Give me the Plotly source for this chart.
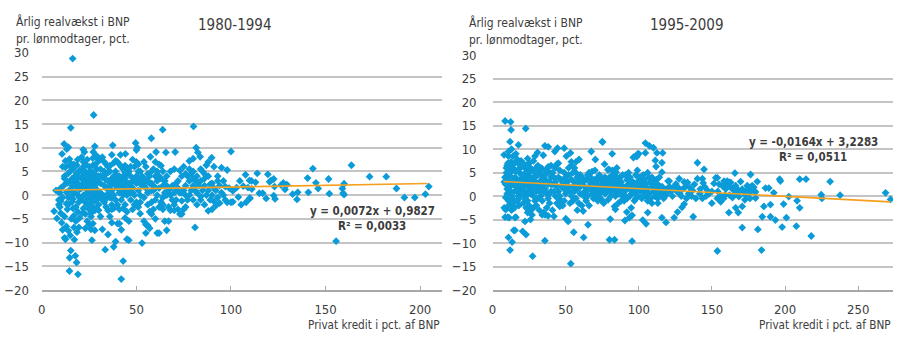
import plotly.graph_objects as go

# ---------------- data: 1980-1994 ----------------
x80 = [
 6.5,8,9,9.5,10,10.5,11,12,12.5,13,
 13.5,14,14.5,14.6,15,10.7,11.8,13.2,14,9.5,
 10,11,11.5,12,12.5,13,13.5,14,14.5,15,
 8.5,9,12,13,14,12.5,11,10,15,7.5,
 15.3,15.3,14.7,14.6,15.6,16,16.5,17,17.2,17.7,
 18.4,19.1,18,18.4,18.8,19.1,19.6,18.6,16.3,16,
 16.5,17,17.5,18,19,19.5,20,20,16,17,
 18.5,19.5,16.5,17.5,18,19,20,17,15.5,16,
 21.9,22.5,27.2,28,27.4,21,22,23,24,25,
 26,27,28,29,30,21,22,23,24,25,
 26,27,28,29,30,21,22,23,24,25,
 26,26.5,27,28,23,21.5,24,25,26,27,
 28,29,30,29,27,21,22,23,24,25,
 26,27,28,29,30,22,23,24,25,26,
 28,30,29,26,24,23,27,25,28,30,
 32,31,33,34,35,36,37,38,39,40,
 31,32,33.5,35,36,37,38,39,31,33,
 34,35,36,37,37.5,38,39,40,32,34,
 35,36,37,38,39,40,31,33,34,40,
 32,36,38,39,35,33,31,40,37,34,
 41.6,44.2,43,42,41,42,43,44,45,46,
 41,42,43,44,45,46,47,48,49,50,
 41,42,43,44,45,46,47,48,49,50,
 41,43,45,47,48,49.6,50.4,50,46,48,
 44,42,47,49,50,45,41,43,44,46,
 51,52,53,54,55,56,57.4,57.9,58,59,
 60,51,52,53,54,55,56,57,58,60,
 51,52,53,54,55,56,57,58,59,60,
 51,53,55,57,59,60,52,54,56,58,
 60.4,61,62,59,57,55,
 63.9,65.6,70.5,61,62,63,64,65,66,67,
 68,69,70,61,62,63,64,65,66,67,
 64,66,68,70,72,74,76,78,80,71,
 72,73,74,75,76,77,78,79,80,69,
 67,71,73,75,77,79,73,75,78,80,
 68,70,64,62,61,65,63,71,76,74,
 80.2,81.6,82.5,83.7,89.8,88,87,85,82,84,
 86,88,90,92,94,96,98,91,93,95,
 81,82,84,86,88,90,92,94,96,98,
 100,100,99,97,95,93,91,89,87,85,
 83,81,80,82,84,86,89,91,93,97,
 101,103,104.7,105.4,106.5,107.7,109,110.9,101,103.9,
 108,110,
 109.8,110,111,113,113.9,115,116.8,118.6,119.5,120.4,
 121.2,122.6,122.6,123.3,123,126.5,127.7,128.6,129.6,132.6,
 134.9,135.3,140.5,140.9,143.3,144.9,146.1,151.6,152,155.6,
 158.9,159.3,159.8,159.8,163.7,173.3,182.1,187.5,191.7,197.2,
 202.8,204.6,
 12,14,16,18,20,22,24,26,28,30,
 32,34,36,38,40,42,44,46,48,50,
 52,54,56,58,60,62,64,66,68,70,
 33,35,37,39,41,43,45,47,49,51,
 72,74,76,78,80,82,84,86,88,90,
 19,21,23,25,27,29,31,33,35,37,
]
y80 = [
 -3.4,-4.9,-1,-2.5,-3.8,-5.8,-7.3,-9,-9.3,0.6,
 2.6,4.6,6.3,7.6,-8.5,8.7,10.8,9.7,10.1,0.5,
 1.5,-0.5,2,3.5,5.9,-1.8,-3,-2,1,3,
 0.8,-2,-4.5,-6.6,-7.5,7.2,6,-1.3,5,1,
 14.2,-11.7,-13.2,-16,6.6,-1.4,-2.8,-6.8,-9.4,-12.8,
 -14.2,-16.7,1.9,4.6,2.6,0,-6.8,-7.8,28.8,3.5,
 5.5,2.5,0.5,-2.5,-3.5,3.8,5.2,1.2,0,-4.3,
 6.3,-1.5,-0.8,4,-5.5,7.5,-4.8,6.5,-5,2,
 9.6,9.1,9.1,10.3,16.9,8,6,5,4,3,
 2,1,0,-1,-2,3.5,2.5,1.5,0.5,-0.5,
 -1.5,-2.5,-3.2,3,4,-1,-2.8,-4,-5.5,-6.2,
 -7.2,-9.5,-6,-7.4,-7,-3.8,7.5,6,5,4.5,
 6.2,5.5,7.5,8.3,7.8,5,4.2,3,2,1,
 0,-0.8,2,1.2,0.2,0,-1.5,-2,-3,3.8,
 4.5,2.8,-2.8,-3.8,-0.5,6.5,2.8,4.8,-1.2,-3.2,
 8,7.5,5,6.5,3,2,1,0,-1,4,
 -4.5,-7.2,-11.5,-8.3,-4.5,-5.8,-10.9,-9.8,2.5,-1.5,
 -2.5,-3.2,6.2,8.5,10.5,6.8,7.2,7,3.8,1.5,
 4.8,-0.5,3.5,2.5,5,1.5,0.5,2,-0.8,-2,
 -1,3,-2.8,2,0.3,4.3,5.5,-6,-2,3.2,
 8.5,8.7,-13.9,-17.7,-6,-7.3,-2.8,-4.8,-9.3,-9.5,
 4,3,2,1,0,5,4,3,6,7,
 0.5,-1,5.5,6.2,2.5,1.5,-1,-3,-2,-1.5,
 2,4,4.5,6,7.5,11,10,9.5,-5.5,0.5,
 -2,6,2,0,2.5,-3.5,-3,0,3.5,0.5,
 6.5,5,4,7,6,3,8.1,12,5,2,
 4,-2.5,-3.9,-10.1,-5.5,-6.2,-6.4,-3.5,-4,-5,
 1,0,2,-0.5,1.5,0.5,2.5,-1.5,1,-1,
 3,3.5,3,4,5.5,7,-1.5,2,-2,1,
 9.1,-8,-8,-3,-7,-8,
 13.8,9,9.1,3,6.5,6.2,5,3,2,1,
 0,-1,-2,0,1.5,-1.5,-3,-5.5,-7.4,-5.5,
 -2,4,5,5.5,3,4,2,3,5,-1,
 -3,-4,-4,-3,-2.5,-1,0,1,2,2,
 -2.5,1,0.5,1,4,4.5,5.2,6,7.2,7.7,
 -3.2,-3.2,2,-2.5,5,0.5,3.5,2.5,0,-1.2,
 14.5,10,9,8.1,7.9,7,6.3,5,4,3,
 2,1,0,1,2,3,5.3,6,4,5.8,
 -6.8,-2,-1,-2,-3.3,-3,-2.2,-1.7,0,-1.5,
 9.2,-1.5,1.5,1.8,0.5,-0.5,1.5,2.3,0,1,
 2,1,-1,0.5,-0.3,3.5,-1,-1.3,3,-1,
 0.9,1.6,3,-2,1.9,4.3,1.6,3,-1.4,-0.4,
 -1.5,-0.7,
 3.1,-0.6,1.3,2.7,4.6,0.4,0.4,-0.7,4.4,2.8,
 3.1,3.4,-0.1,-0.8,1.8,2.1,2.6,1.2,2.2,0.2,
 -0.9,0.6,3.6,0.6,5.6,2.6,1.4,3.4,0.3,-9.7,
 1.4,0.4,0.1,2.4,6.3,3.9,3.9,1.4,-0.5,-0.5,
 0.2,1.8,
 4,-0.5,1,3,-0.5,7,3.5,-4.5,3.5,-0.5,
 0,4.5,5,4,3,2.5,4.8,2.5,1.5,4,
 2.5,3.5,4.5,2.5,1.5,4,-0.5,0,1.5,0.5,
 7,1.5,-0.5,3.8,6.5,1,5.8,0.5,3.5,5,
 1.5,0.5,4.5,5.5,3.5,2.8,5.5,4.5,4,2.5,
 2.2,1.5,4,2,6.3,6.8,4,-0.2,6,-3,
]

# ---------------- data: 1995-2009 ----------------
x95 = [
 8.6,12.4,12.7,22.7,7.9,12,10.9,12.7,17.7,8,
 8.5,9,9.5,10,10.5,11,11.5,12,12.5,13,
 13.5,14,14.5,15,15.5,16,16.5,17,17.5,18,
 18.5,19,19.5,20,9,10,11,12,13,14,
 15,16,17,18,19,20,8,8.6,10.4,10.9,
 12,13.4,14.5,15.4,9,10.4,11.3,15.4,11,13,
 14,16,17,18,9.5,10.5,12,13,15,17,
 20.6,22.9,27.4,35.8,22.2,30.8,35.8,38.1,34.7,21,
 22,23,24,25,26,27,28,29,30,31,
 32,33,34,35,36,37,38,39,40,21,
 22,23,24,25,26,27,28,29,30,21,
 23,24,25,26,27,28,29,30,31,32,
 33,34,35,36,37,38,39,40,24,26,
 28,30,32,34,36,38,40,22,25,27,
 31,33,35,37,39,23,29,24,26,39,
 42.6,44.4,49,50.5,53.3,53.9,57.1,59.1,53.5,55.5,
 51.7,50.1,41,42,43,44,45,46,47,48,
 49,50,51,52,53,54,55,56,57,58,
 59,60,41,42,43,44,45,46,47,48,
 49,50,52,54,56,58,60,42,44,46,
 48,51,53,55,57,59,43,47,52,58,
 54,56,41,45,50,55,60,45,49,57,
 62.3,65.3,67.5,70.3,75.3,75,81.8,76.6,78.9,79.6,
 61,62,63,64,65,66,67,68,69,70,
 71,72,73,74,75,76,77,78,79,80,
 61,62,63,64,65,66,67,68,69,70,
 71,72,73,74,75,76,77,78,79,80,
 64,66,68,70,72,74,76,63,67,71,
 73,75,77,79,62,80,
 80.5,80,83.4,95.4,83.4,90.5,91.8,93.6,94.8,95.4,
 84.5,96.5,99.3,98.6,96.3,100,81,82,83,84,
 85,86,87,88,89,90,91,92,93,94,
 95,96,97,98,99,100,81,82,83,84,
 85,86,87,88,89,90,91,92,93,94,
 95,96,97,98,99,100,86,88,84,97,
 82,85,89,92,94,98,81,87,91,99,
 104.5,107.2,110,104.5,112.4,116.3,111.3,115.8,111.8,115.8,
 102.7,105,106.1,113,115.8,118.6,101,102,103,104,
 105,106,107,108,109,110,111,112,113,114,
 115,116,117,118,119,120,101,102,103,104,
 105,106,107,108,109,110,111,112,113,114,
 116,118,120.8,112.9,101,103,106,109,117,119,
 124.2,126.5,129.5,131,132.6,137.2,140.1,143.5,140.1,144.6,
 148,149.9,141.7,143.5,136.7,133.3,127.6,125.4,122,123,
 124,126,128,130,131,134,135,138,139,142,
 145,146,147,150,121,127,129,132,136,144,
 151.4,152.6,153.7,153.7,153.7,156,160.5,161.6,162.8,165.7,
 166.2,168,168.4,170.7,170.7,172.5,173.5,174.1,176.4,177.6,
 179.8,181,181.4,183.9,184.4,185.5,186.6,188.9,190,190,
 192.3,193.4,196.3,196.8,198,199,200.9,202.5,207.7,208.2,
 210,210,214.3,217.9,224.7,225.2,230.8,237.6,268.7,272.1,
 154.9,157.1,158.3,159.4,160.5,161.7,162.8,164,165.1,166.2,
 167.3,168.5,169.6,170.7,171.9,173,174.1,175.3,176.4,177.5,
 178.6,179.8,154,156,158,162,164,166,159,176,
 10,12,14,16,18,20,22,24,26,28,
 30,32,34,36,38,40,11,13,15,17,
 19,21,23,25,27,29,31,33,35,37,
]
y95 = [
 16,15.8,14.1,14.4,8.8,11.6,8.5,7.3,10.9,3,
 4,2.5,5,6.5,7,4.5,3,2,1,0,
 -0.5,6,5.5,7,4,3,2,1,0,-0.5,
 5,6,7.5,4.5,-0.3,0.5,-1,-2,-3,-1.5,
 -2.5,-4.5,-1,-2,1.5,2.5,-2.5,-4.5,-4.5,-8.8,
 -11.5,-9.8,-7.3,-7.3,-2.9,-2.2,-4.6,-4.6,9.5,10,
 8.5,9,7.8,6.8,6,3.5,5,4,1,3.5,
 -7.5,-8.2,-12.8,-9.5,-5.4,9.3,10.7,10.5,8.7,7,
 6,5,4,3,2,1,0,-1,-2,6.5,
 5.5,4.5,3.5,2.5,1.5,0.5,-0.5,-1.5,4,2,
 1,0,-1,-2,-3,-4,-2.5,3,4.5,-1.5,
 3,8,7,6,5.5,7.5,8.5,6,2,1,
 0,-1,-3.5,-4,-2.5,-4.2,5,6.5,-3.5,-5,
 4,1,-3,-4,3.5,2.5,1,-0.5,5,2.5,
 -0.5,2,4.5,5.5,3,-2.5,1.5,2,4,0.5,
 9.5,10.2,10.2,8.5,9.2,7.3,7.3,7.8,-14.4,-7.7,
 -5.4,-4.8,5,4,3,2,1,0,-1,-2,
 5,4,3,2,1,0,-1,6,5,4,
 3,2,-3,-4.3,0,6.8,7,5.5,3.5,2.5,
 1.5,0.5,6,6.5,3,1.5,0.5,1,-1.5,-2.2,
 3,1,-1.5,2,-0.5,-1.5,6,2,4.5,-3,
 3.5,1,2.5,4,2,5,4.5,-0.5,-1,2.5,
 -8.8,-6.1,9.5,7.8,11.5,11.6,9,6.8,5.6,5.7,
 4,3,2,1,0,5,4,3,2,1,
 0,-1,4.5,3.5,2.5,1.5,0.5,3,2,1,
 -2,-3.2,1,3.5,4.5,2,1.5,0.5,-0.5,3.5,
 2.5,1.5,0.5,2,-1,3.8,4,1,-0.8,2.5,
 -1,-2,5.2,5.5,4,-0.5,-1.5,-0.2,2.8,3,
 2,1,2.5,3.5,0.5,4,
 -4.9,-9.3,-9.3,-9.6,-2.2,-5.2,-3.4,-4.6,-2.5,-4.1,
 5.1,8.3,9,8.4,8.2,9,3,2,1,0,
 4,3,2,1,0,-1,4.5,3.5,2.5,1.5,
 0.5,3,2,1,0,4,0,4.5,3.5,2.5,
 1.5,0.5,4,3,2,1,0,-0.5,5,4,
 3,2,1,4.5,3,2,-1.5,-1,-2.8,-1,
 5.5,6,4.5,1.5,0,-0.5,1.8,0.5,2,5.5,
 11.3,10.7,10.3,9.2,9.2,9.2,7.6,7.1,6.3,5.1,
 -5.1,-5.9,-3.5,-1.5,-4.6,-5.6,4,3,2,1,
 0,5,4,3,2,1,0,3.5,2.5,1.5,
 0.5,2,1,0,1.5,3.2,1,-0.5,4.5,3.5,
 2.5,1.5,0.5,-0.5,4,3,2,1,0,4,
 0,1.2,3.2,-0.5,2.5,0,-1,-1.5,-0.5,0.5,
 -4.6,-3.4,-2.4,-1.7,-0.5,-4.4,3.7,3.7,7.1,5.7,
 0.5,-1.5,0.5,-0.5,1.2,2.9,3.7,2.6,1,0,
 2,1,0.5,1.5,3,0.5,1.8,2.5,-0.5,1.5,
 2,0,1.2,1,2,1.8,0,2,0,2.8,
 2.7,3.9,3.9,-0.5,-11.7,-1.2,3.2,-3.5,2.9,4.9,
 -2.5,-3.5,-0.1,-6.7,-2.2,-0.8,0.9,2.2,4.6,1.5,
 0.9,3.1,-7.1,-11.5,-4.4,-2.2,1.7,1.7,-4.4,-1.8,
 0.7,-5.1,3.6,3.2,-6.6,-1.7,-4.6,-0.1,-6.4,-1,
 3.6,-2.5,3.6,-8.5,0.3,-0.5,3.1,0.2,0.7,-0.7,
 2.5,2.2,3.2,1.5,2.5,2.9,1.9,1.5,1.2,2.2,
 1.5,0.9,3.1,1.5,0.9,0.2,1.2,1.9,0.9,2.2,
 1.9,-0.4,1,0,-0.5,0.2,-0.3,0.5,0.2,-0.5,
 1.5,3.5,2.5,5.2,3,0.5,3.5,6,0.5,5.5,
 2.8,3,5.8,4.5,6.2,2.5,5.5,6.5,3,5.5,
 3.5,4.5,6.5,1,3.5,4,4.5,6,1,3,
]

# trend lines (slope, intercept) and x extent, as printed on the chart
trend80 = [0.0072, 0.9827]
trend95 = [-0.0164, 3.2283]
trend80_x = [6.5, 204]
trend95_x = [7.5, 272]

panel_titles = ["1980-1994", "1995-2009"]
eq_texts = ["y = 0,0072x + 0,9827", "y = -0,0164x + 3,2283"]
r2_texts = ["R² = 0,0033", "R² = 0,0511"]
ylabel1 = "Årlig realvækst i BNP"
ylabel2 = "pr. lønmodtager, pct."
xlabel = "Privat kredit i pct. af BNP"
y_ticks = [-20, -15, -10, -5, 0, 5, 10, 15, 20, 25, 30]

# ---------------- style ----------------
W, H = 900, 341
FONT = "Liberation Sans Narrow, DejaVu Sans Condensed, Lato, sans-serif"
TXT = "#3c3c3c"
BLUE = "#0A9BD8"
ORANGE = "#F5A01E"
GRID = "#c4c4c4"

def px(x):
    return x / W

def py(y):
    return 1 - y / H

fig = go.Figure()

fig.add_trace(go.Scatter(x=x80, y=y80, mode="markers", xaxis="x", yaxis="y",
                         marker=dict(symbol="diamond", size=6, color=BLUE, line=dict(width=0)),
                         showlegend=False))
fig.add_trace(go.Scatter(x=trend80_x, y=[trend80[0] * v + trend80[1] for v in trend80_x],
                         mode="lines", xaxis="x", yaxis="y",
                         line=dict(color=ORANGE, width=1.6), showlegend=False))
fig.add_trace(go.Scatter(x=x95, y=y95, mode="markers", xaxis="x2", yaxis="y2",
                         marker=dict(symbol="diamond", size=6, color=BLUE, line=dict(width=0)),
                         showlegend=False))
fig.add_trace(go.Scatter(x=trend95_x, y=[trend95[0] * v + trend95[1] for v in trend95_x],
                         mode="lines", xaxis="x2", yaxis="y2",
                         line=dict(color=ORANGE, width=1.6), showlegend=False))

xcommon = dict(showgrid=False, zeroline=False, showline=True, linecolor="#a8a8a8", linewidth=1.5,
               ticks="inside", ticklen=4, tickcolor="#a8a8a8", tickwidth=1, dtick=50,
               tickfont=dict(family=FONT, size=13, color=TXT), ticklabelstandoff=7)
ycommon = dict(range=[-20, 30], tickvals=y_ticks, showgrid=True, gridcolor=GRID, gridwidth=1.5,
               zeroline=False, showline=False, ticks="",
               tickfont=dict(family=FONT, size=13, color=TXT))

fig.update_layout(
    width=W, height=H, margin=dict(l=0, r=0, t=0, b=0),
    paper_bgcolor="white", plot_bgcolor="white",
    xaxis=dict(xcommon, domain=[px(38), px(440)], range=[0, 211.6], anchor="y"),
    yaxis=dict(ycommon, domain=[py(296), py(48)], anchor="x", ticklabelstandoff=12),
    xaxis2=dict(xcommon, domain=[px(490.7), px(893)], range=[0, 273.8], anchor="y2"),
    yaxis2=dict(ycommon, domain=[py(296), py(50.5)], anchor="x2", ticklabelstandoff=15),
)

ann = []
def add_text(text, x, y, xanchor="center", size=12, bold=False):
    t = f"<b>{text}</b>" if bold else text
    ann.append(dict(text=t, x=px(x), y=py(y), xref="paper", yref="paper",
                    xanchor=xanchor, yanchor="middle", showarrow=False,
                    font=dict(family=FONT, size=size, color=TXT)))

# left panel
add_text(ylabel1, 10, 15, xanchor="left", size=12)
add_text(ylabel2, 10, 33, xanchor="left", size=12)
add_text(panel_titles[0], 232, 19, size=15)
add_text(eq_texts[0], 370, 213, size=11.5, bold=True)
add_text(r2_texts[0], 370, 229, size=11.5, bold=True)
add_text(xlabel, 440, 333, xanchor="right", size=11.7)
# right panel
add_text(ylabel1, 465, 16, xanchor="left", size=12)
add_text(ylabel2, 465, 34, xanchor="left", size=12)
add_text(panel_titles[1], 686, 19, size=15)
add_text(eq_texts[1], 813, 141, size=11.5, bold=True)
add_text(r2_texts[1], 813, 157, size=11.5, bold=True)
add_text(xlabel, 893, 333, xanchor="right", size=11.7)

fig.update_layout(annotations=ann)
fig.write_html("out.html")
